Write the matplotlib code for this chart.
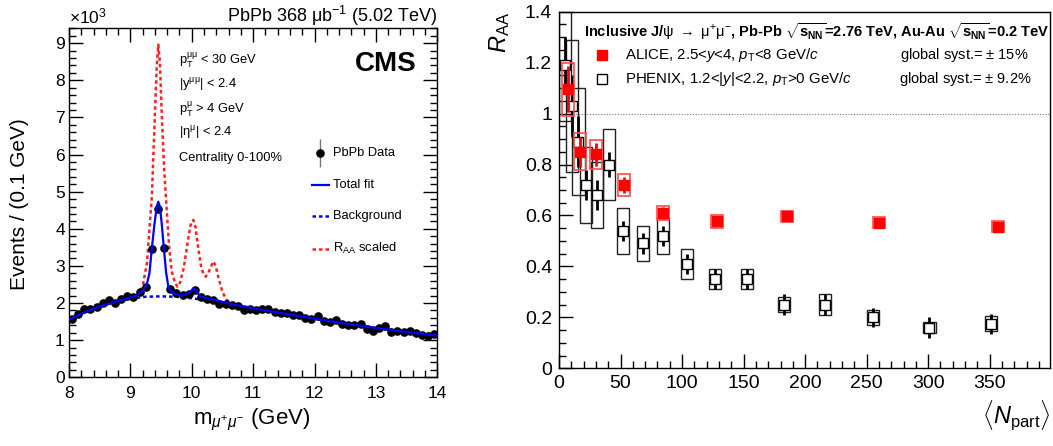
import numpy as np
import matplotlib
matplotlib.use("Agg")
import matplotlib.pyplot as plt
from matplotlib.patches import Rectangle
from matplotlib.ticker import MultipleLocator

plt.rcParams["font.family"] = ["Liberation Sans", "DejaVu Sans"]
plt.rcParams["mathtext.fontset"] = "custom"
plt.rcParams["mathtext.rm"] = "Liberation Sans"
plt.rcParams["mathtext.it"] = "Liberation Sans:italic"
plt.rcParams["mathtext.bf"] = "Liberation Sans:bold"

# ---- left panel: dimuon mass spectrum (x10^3 events per 0.1 GeV) ----
mass_bins = np.round(np.arange(8.05, 14.0, 0.1), 2)
counts = [1.56, 1.71, 1.83, 1.83, 1.90, 1.99, 2.07, 1.99, 2.10, 2.19,
          2.17, 2.30, 2.44, 3.45, 4.53, 3.48, 2.39, 2.26, 2.21, 2.24,
          2.35, 2.15, 2.10, 2.08, 1.98, 1.98, 1.96, 1.92, 1.80, 1.85,
          1.81, 1.83, 1.85, 1.76, 1.73, 1.73, 1.67, 1.67, 1.59, 1.56,
          1.64, 1.52, 1.50, 1.53, 1.44, 1.41, 1.41, 1.44, 1.31, 1.26,
          1.33, 1.38, 1.22, 1.24, 1.21, 1.24, 1.19, 1.15, 1.11, 1.17]
count_err = 0.05

bkg_m = [8.0, 8.25, 8.5, 8.75, 9.0, 9.25, 9.5, 9.75, 10.0, 10.25, 10.5,
         10.75, 11.0, 11.5, 12.0, 12.5, 13.0, 13.5, 14.0]
bkg_v = [1.55, 1.75, 1.91, 2.03, 2.12, 2.17, 2.18, 2.17, 2.13, 2.07, 2.01,
         1.94, 1.86, 1.72, 1.58, 1.45, 1.33, 1.22, 1.12]

fit_m = [9.0, 9.1, 9.2, 9.266, 9.31, 9.347, 9.39, 9.43, 9.455, 9.48, 9.51,
         9.548, 9.58, 9.618, 9.67, 9.73, 9.80, 9.836, 9.9, 9.97, 10.037,
         10.08, 10.13, 10.2, 10.28, 10.35, 10.42, 10.5, 10.6, 10.75]
fit_v = [2.15, 2.21, 2.32, 2.49, 2.80, 3.43, 4.10, 4.60, 4.73, 4.60, 4.15,
         3.43, 2.85, 2.44, 2.30, 2.25, 2.21, 2.20, 2.23, 2.30, 2.40,
         2.30, 2.20, 2.14, 2.11, 2.10, 2.07, 2.03, 1.99, 1.94]

raa_m = [9.0, 9.1, 9.13, 9.2, 9.27, 9.35, 9.40, 9.43, 9.455, 9.48, 9.51,
         9.55, 9.59, 9.63, 9.67, 9.72, 9.765, 9.81, 9.87, 9.93, 9.98,
         10.025, 10.06, 10.1, 10.15, 10.19, 10.23, 10.28, 10.35, 10.39,
         10.44, 10.5, 10.56, 10.65, 10.75]
raa_v = [2.16, 2.22, 2.26, 2.45, 3.08, 4.87, 7.12, 8.40, 8.96, 8.50, 7.12,
         5.60, 4.56, 3.55, 2.88, 2.58, 2.44, 2.55, 2.95, 3.60, 4.10,
         4.24, 4.05, 3.55, 3.00, 2.78, 2.71, 2.85, 3.12, 3.00,
         2.65, 2.30, 2.10, 2.00, 1.94]

# ---- right panel: R_AA vs <Npart> ----
alice_npart = [7.0, 17.0, 29.8, 52.5, 84.7, 128.6, 185.4, 259.9, 356.8]
alice_raa = [1.095, 0.85, 0.84, 0.72, 0.61, 0.577, 0.597, 0.572, 0.556]
alice_stat = [0.09, 0.06, 0.045, 0.03, 0.025, 0.02, 0.015, 0.015, 0.012]
alice_syst = [0.105, 0.072, 0.058, 0.043, 0.029, 0.026, 0.021, 0.021, 0.022]

phenix_npart = [4.9, 10.8, 15.8, 22.0, 30.6, 40.9, 52.2, 68.0, 84.7, 104.0,
                127.0, 153.0, 183.0, 216.0, 255.0, 301.0, 351.0]
phenix_raa = [1.19, 1.03, 0.89, 0.72, 0.68, 0.80, 0.54, 0.49, 0.52, 0.41,
              0.35, 0.35, 0.25, 0.25, 0.20, 0.16, 0.175]
phenix_stat = [0.11, 0.12, 0.10, 0.06, 0.06, 0.05, 0.04, 0.04, 0.04, 0.04,
               0.04, 0.04, 0.04, 0.04, 0.036, 0.04, 0.04]
phenix_syst = [0.22, 0.26, 0.21, 0.15, 0.13, 0.14, 0.09, 0.07, 0.07, 0.06,
               0.04, 0.04, 0.03, 0.04, 0.03, 0.022, 0.03]

W, H = 1053, 446
DOTS = (0, (1.4, 1.2))


def style_axis(ax, all_sides):
    ax.tick_params(which="both", direction="in", top=all_sides, right=all_sides,
                   width=1.0, colors="black")
    ax.tick_params(which="major", length=10)
    ax.tick_params(which="minor", length=5)
    for s in ax.spines.values():
        s.set_linewidth(1.0)


fig = plt.figure(figsize=(W / 100, H / 100), dpi=100)

# left panel
ax1 = fig.add_axes([69 / W, 68.7 / H, 368.3 / W, 349 / H])
lo = [(m, v) for m, v in zip(bkg_m, bkg_v) if m < fit_m[0]]
hi_fit = [(m, v) for m, v in zip(bkg_m, bkg_v) if m > fit_m[-1]]
hi_raa = [(m, v) for m, v in zip(bkg_m, bkg_v) if m > raa_m[-1]]
fit_x = [p[0] for p in lo] + fit_m + [p[0] for p in hi_fit]
fit_y = [p[1] for p in lo] + fit_v + [p[1] for p in hi_fit]
raa_x = [p[0] for p in lo] + raa_m + [p[0] for p in hi_raa]
raa_y = [p[1] for p in lo] + raa_v + [p[1] for p in hi_raa]

ax1.plot(bkg_m, bkg_v, color="#0000ff", lw=1.8, ls=DOTS, zorder=2)
ax1.plot(raa_x, raa_y, color="#ff2020", lw=1.8, ls=DOTS, zorder=2)
ax1.errorbar(mass_bins, counts, yerr=count_err, fmt="o", color="black",
             ecolor="#777777", elinewidth=1, ms=5.2, zorder=3)
ax1.plot(fit_x, fit_y, color="#0000ff", lw=1.6, zorder=4)

ax1.set_xlim(8, 14)
ax1.set_ylim(0, 9.4)
ax1.xaxis.set_major_locator(MultipleLocator(1))
ax1.xaxis.set_minor_locator(MultipleLocator(0.2))
ax1.yaxis.set_major_locator(MultipleLocator(1))
ax1.yaxis.set_minor_locator(MultipleLocator(0.2))
style_axis(ax1, True)
ax1.tick_params(axis="x", labelsize=12.5, pad=6)
ax1.tick_params(axis="y", labelsize=12.5, pad=3)

fig.text(20 / W, 1 - 204 / H, "Events / (0.1 GeV)", rotation=90,
         ha="center", va="center", fontsize=15)
fig.text(252 / W, 1 - 420 / H, r"m$_{\mu^{+}\mu^{-}}$ (GeV)",
         ha="center", va="center", fontsize=16)
fig.text(69 / W, 1 - 16 / H, r"$\times$10$^{3}$", ha="left", va="center",
         fontsize=12.5)
fig.text(437 / W, 1 - 16 / H, r"PbPb 368 $\mathrm{\mu b^{-1}}$ (5.02 TeV)",
         ha="right", va="center", fontsize=13)

ax1.text(13.16, 8.44, "CMS", fontsize=20, fontweight="bold",
         ha="center", va="center")
cuts = [r"$\mathrm{p_{T}^{\mu\mu}}$ < 30 GeV",
        r"|$\mathrm{y^{\mu\mu}}$| < 2.4",
        r"$\mathrm{p_{T}^{\mu}}$ > 4 GeV",
        r"|$\mathrm{\eta^{\mu}}$| < 2.4",
        "Centrality 0-100%"]
for txt, yv in zip(cuts, [8.53, 7.88, 7.21, 6.58, 5.91]):
    ax1.text(9.79, yv, txt, fontsize=9.3, ha="left", va="center")

# legend (left)
ax1.errorbar([12.09], [6.05], yerr=[0.38], fmt="o", color="black",
             ecolor="#777777", elinewidth=1, ms=5.2)
ax1.plot([11.96, 12.24], [5.19, 5.19], color="#0000ff", lw=1.6)
ax1.plot([11.96, 12.24], [4.35, 4.35], color="#0000ff", lw=1.8, ls=DOTS)
ax1.plot([11.96, 12.24], [3.46, 3.46], color="#ff2020", lw=1.8, ls=DOTS)
for txt, yv in zip(["PbPb Data", "Total fit", "Background", r"R$_{\rm AA}$ scaled"],
                   [6.05, 5.19, 4.35, 3.46]):
    ax1.text(12.30, yv, txt, fontsize=9.3, ha="left", va="center")

# right panel
ax2 = fig.add_axes([559 / W, (H - 368.3) / H, 491 / W, 356.6 / H])
ax2.axhline(1.0, color="#777777", lw=0.8, ls=(0, (1, 1.5)), zorder=1)

for n, r, s in zip(phenix_npart, phenix_raa, phenix_syst):
    ax2.add_patch(Rectangle((n - 5.0, r - s), 10.0, 2 * s, fill=False,
                            edgecolor="#222222", lw=1.0, zorder=2))
ax2.errorbar(phenix_npart, phenix_raa, yerr=phenix_stat, fmt="s",
             mfc="white", mec="black", mew=1.0, ms=6.5, ecolor="black",
             elinewidth=2, capsize=0, zorder=3)

for n, r, s in zip(alice_npart, alice_raa, alice_syst):
    ax2.add_patch(Rectangle((n - 4.8, r - s), 9.6, 2 * s, fill=False,
                            edgecolor="#ff4a4a", lw=1.2, zorder=4))
ax2.errorbar(alice_npart, alice_raa, yerr=alice_stat, fmt="s",
             color="#ff0000", ms=7.5, ecolor="#ff0000", elinewidth=2,
             capsize=0, zorder=5)

ax2.set_xlim(0, 399)
ax2.set_ylim(0, 1.4)
ax2.xaxis.set_major_locator(MultipleLocator(50))
ax2.xaxis.set_minor_locator(MultipleLocator(10))
ax2.yaxis.set_major_locator(MultipleLocator(0.2))
ax2.yaxis.set_minor_locator(MultipleLocator(0.05))
ax2.yaxis.set_major_formatter(plt.FuncFormatter(lambda v, p: f"{v:g}"))
style_axis(ax2, False)
ax2.tick_params(axis="both", labelsize=14, pad=5)

fig.text(500 / W, 1 - 12 / H, r"$R_{\rm AA}$", rotation=90, ha="center",
         va="top", fontsize=17)
fig.text(1050 / W, 1 - 416 / H, r"$\langle N_{\rm part}\rangle$", ha="right",
         va="center", fontsize=17)

ax2.text(20.3, 1.32,
         r"Inclusive J/$\mathrm{\psi}$ $\rightarrow$ $\mathrm{\mu^{+}\mu^{-}}$, Pb-Pb "
         r"$\sqrt{\mathbf{s}_{\mathbf{NN}}}$=2.76 TeV, Au-Au "
         r"$\sqrt{\mathbf{s}_{\mathbf{NN}}}$=0.2 TeV",
         fontsize=10.5, fontweight="bold", ha="left", va="center", clip_on=True)
ax2.plot([34.9], [1.231], "s", color="#ff0000", ms=7.5)
ax2.plot([34.9], [1.137], "s", mfc="white", mec="black", mew=1.0, ms=6.5)
ax2.text(53.6, 1.231, r"ALICE, 2.5<$y$<4, $p_{\rm T}$<8 GeV/$c$",
         fontsize=10.8, ha="left", va="center")
ax2.text(53.6, 1.137, r"PHENIX, 1.2<|$y$|<2.2, $p_{\rm T}$>0 GeV/$c$",
         fontsize=10.8, ha="left", va="center")
ax2.text(277, 1.231, r"global syst.= $\pm$ 15%", fontsize=10.5,
         ha="left", va="center")
ax2.text(276, 1.137, r"global syst.= $\pm$ 9.2%", fontsize=10.5,
         ha="left", va="center")

fig.savefig("out.png", dpi=100)
